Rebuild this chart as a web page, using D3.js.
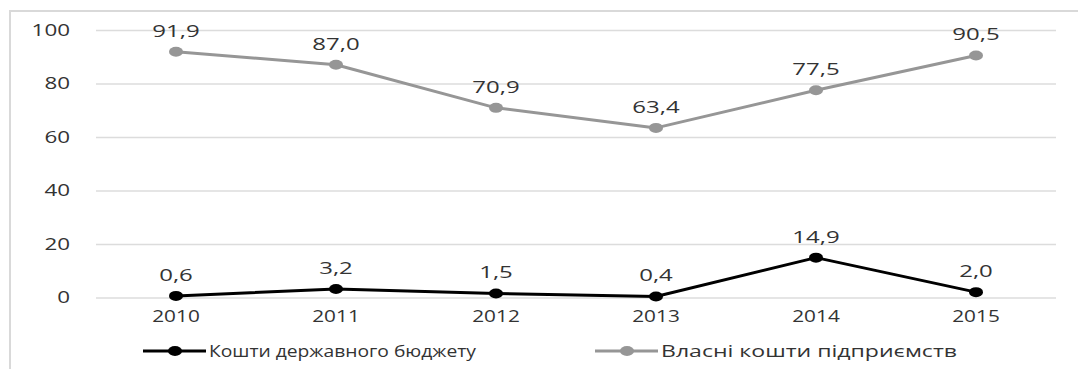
<!DOCTYPE html>
<html>
<head>
<meta charset="utf-8">
<script src="https://cdn.jsdelivr.net/npm/d3@7"></script>
<style>
  html, body { margin: 0; padding: 0; background: #fff; }
  svg { display: block; }
  text { font-family: "Open Sans", "DejaVu Sans", sans-serif; fill: #333; }
</style>
</head>
<body>
<svg id="chart" width="1078" height="369"></svg>
<script>
// Chart data
const years = ["2010", "2011", "2012", "2013", "2014", "2015"];
const stateBudget = [0.6, 3.2, 1.5, 0.4, 14.9, 2.0];
const ownFunds = [91.9, 87.0, 70.9, 63.4, 77.5, 90.5];
const yTicks = [0, 20, 40, 60, 80, 100];
const seriesNames = ["Кошти державного бюджету", "Власні кошти підприємств"];
const seriesColors = ["#000000", "#969696"];

const W = 1078, H = 369;
const stretch = 1.4;           // wide lettering of the chart's typeface
const fs = 16;
const fmt = v => v.toFixed(1).replace(".", ",");

const svg = d3.select("#chart");

// Frame (left and top edges)
svg.append("path")
  .attr("d", `M10,${H} V11 H${W}`)
  .attr("fill", "none")
  .attr("stroke", "#d9d9d9")
  .attr("stroke-width", 2);

const x = d3.scaleBand().domain(years).range([96, 1056]);
const y = d3.scaleLinear().domain([0, 100]).range([297.5, 30]);
const cx = d => x(d) + x.bandwidth() / 2;

// Horizontal gridlines + y labels
const yAxis = svg.append("g")
  .attr("transform", "translate(96,0)")
  .call(d3.axisLeft(y).tickValues(yTicks).tickSize(-960).tickPadding(0).tickFormat(d3.format("d")));
yAxis.select(".domain").remove();
yAxis.selectAll(".tick line").attr("stroke", "#dcdcdc").attr("stroke-width", 1.3);
yAxis.selectAll(".tick text")
  .attr("font-size", fs)
  .attr("x", -26 / stretch)
  .attr("transform", `scale(${stretch},1)`)
  .attr("fill", "#333");

// x labels
const xAxis = svg.append("g")
  .attr("transform", "translate(0,297.5)")
  .call(d3.axisBottom(x).tickSize(0).tickPadding(0));
xAxis.select(".domain").remove();
xAxis.selectAll(".tick text")
  .attr("font-size", fs)
  .attr("y", 25)
  .attr("dy", 0)
  .attr("transform", `scale(1.3,1)`)
  .attr("fill", "#333");

const line = d3.line().x((d, i) => cx(years[i])).y(d => y(d));

function drawSeries(values, color) {
  const g = svg.append("g");
  g.append("path")
    .datum(values)
    .attr("d", line)
    .attr("fill", "none")
    .attr("stroke", color)
    .attr("stroke-width", 3)
    .attr("stroke-linejoin", "round");
  g.selectAll("ellipse")
    .data(values)
    .join("ellipse")
    .attr("cx", (d, i) => cx(years[i]))
    .attr("cy", d => y(d))
    .attr("rx", 7)
    .attr("ry", 5)
    .attr("fill", color);
  g.selectAll("text")
    .data(values)
    .join("text")
    .attr("transform", (d, i) => `translate(${cx(years[i])},${y(d) - 15}) scale(1.5,1)`)
    .attr("text-anchor", "middle")
    .attr("font-size", fs)
    .text(d => fmt(d));
}

drawSeries(ownFunds, seriesColors[1]);
drawSeries(stateBudget, seriesColors[0]);

// Legend
const legendItems = [
  { name: seriesNames[0], color: seriesColors[0], x0: 143, len: 267 },
  { name: seriesNames[1], color: seriesColors[1], x0: 595, len: 296 }
];
const ly = 351;
const lg = svg.append("g");
legendItems.forEach(item => {
  lg.append("line")
    .attr("x1", item.x0).attr("x2", item.x0 + 63)
    .attr("y1", ly).attr("y2", ly)
    .attr("stroke", item.color).attr("stroke-width", 3);
  lg.append("ellipse")
    .attr("cx", item.x0 + 32).attr("cy", ly)
    .attr("rx", 7).attr("ry", 5)
    .attr("fill", item.color);
  lg.append("text")
    .attr("x", item.x0 + 66)
    .attr("y", ly + 6)
    .attr("font-size", fs)
    .attr("textLength", item.len)
    .attr("lengthAdjust", "spacingAndGlyphs")
    .text(item.name);
});
</script>
</body>
</html>
